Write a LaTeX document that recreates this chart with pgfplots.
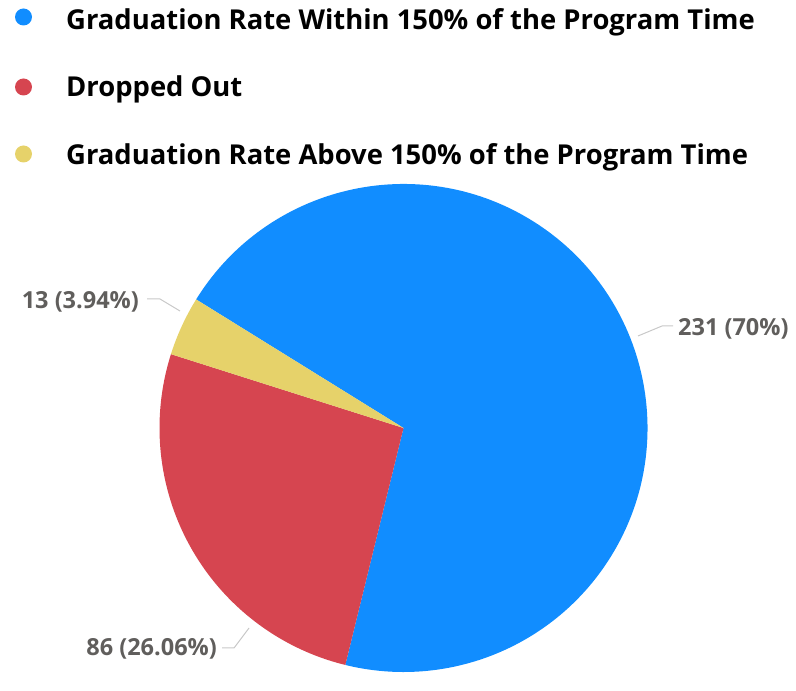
\documentclass[border=0pt]{standalone}
\usepackage{pgfplots}
\pgfplotsset{compat=1.18}
\usepackage{pgfplotstable}
\usepackage{fontspec}
\setmainfont{Open Sans}
\definecolor{cBlue}{HTML}{118DFF}
\definecolor{cRed}{HTML}{D64550}
\definecolor{cYel}{HTML}{E6D26A}
\definecolor{cLab}{HTML}{605E5C}
\definecolor{cLead}{HTML}{C8C8C8}

% slice counts, in drawing order (clockwise)
\pgfplotstableread{
value
231
86
13
}\slices

\begin{document}
\begin{tikzpicture}
\pgfplotstablegetelem{0}{value}\of\slices \let\va\pgfplotsretval
\pgfplotstablegetelem{1}{value}\of\slices \let\vb\pgfplotsretval
\pgfplotstablegetelem{2}{value}\of\slices \let\vc\pgfplotsretval
\pgfmathsetmacro\tot{\va+\vb+\vc}
\pgfmathsetmacro\aA{148.2}
\pgfmathsetmacro\aB{\aA-360*(\va/\tot)}
\pgfmathsetmacro\aC{\aB-360*(\vb/\tot)}
\pgfmathsetmacro\aD{\aC-360*(\vc/\tot)}
\begin{axis}[x=1bp,y=1bp,xmin=0,xmax=796,ymin=0,ymax=672,
  hide axis,clip=false]
  \path (rel axis cs:0,0) rectangle (rel axis cs:1,1);
  % pie slices
  \fill[cBlue] (axis cs:403.5,244) -- ++(\aA:244bp) arc[start angle=\aA,end angle=\aB,radius=244bp] -- cycle;
  \fill[cRed]  (axis cs:403.5,244) -- ++(\aB:244bp) arc[start angle=\aB,end angle=\aC,radius=244bp] -- cycle;
  \fill[cYel]  (axis cs:403.5,244) -- ++(\aC:244bp) arc[start angle=\aC,end angle=\aD,radius=244bp] -- cycle;
  % legend
  \fill[cBlue] (axis cs:23.5,655) circle[radius=8.5bp];
  \fill[cRed]  (axis cs:23.5,585) circle[radius=8.5bp];
  \fill[cYel]  (axis cs:23.5,518) circle[radius=8.5bp];
  \node[anchor=base west,inner sep=0,font=\fontsize{27.4bp}{30bp}\selectfont\bfseries] at (axis cs:66,642) {Graduation Rate Within 150\% of the Program Time};
  \node[anchor=base west,inner sep=0,font=\fontsize{27.4bp}{30bp}\selectfont\bfseries] at (axis cs:66,575) {Dropped Out};
  \node[anchor=base west,inner sep=0,font=\fontsize{27.4bp}{30bp}\selectfont\bfseries] at (axis cs:66,507) {Graduation Rate Above 150\% of the Program Time};
  % leader lines
  \draw[cLead,line width=1bp] (axis cs:638,336) -- (axis cs:662,346) -- (axis cs:673,346);
  \draw[cLead,line width=1bp] (axis cs:147,373) -- (axis cs:160,373) -- (axis cs:180,361);
  \draw[cLead,line width=1bp] (axis cs:222,24) -- (axis cs:234,24) -- (axis cs:249,44);
  % data labels
  \node[anchor=base west,inner sep=0,cLab,font=\fontsize{23.5bp}{26bp}\selectfont\bfseries] at (axis cs:678,336) {\va{} (70\%)};
  \node[anchor=base east,inner sep=0,cLab,font=\fontsize{23.5bp}{26bp}\selectfont\bfseries] at (axis cs:139,363) {\vc{} (3.94\%)};
  \node[anchor=base east,inner sep=0,cLab,font=\fontsize{23.5bp}{26bp}\selectfont\bfseries] at (axis cs:217,16) {\vb{} (26.06\%)};
\end{axis}
\end{tikzpicture}
\end{document}
